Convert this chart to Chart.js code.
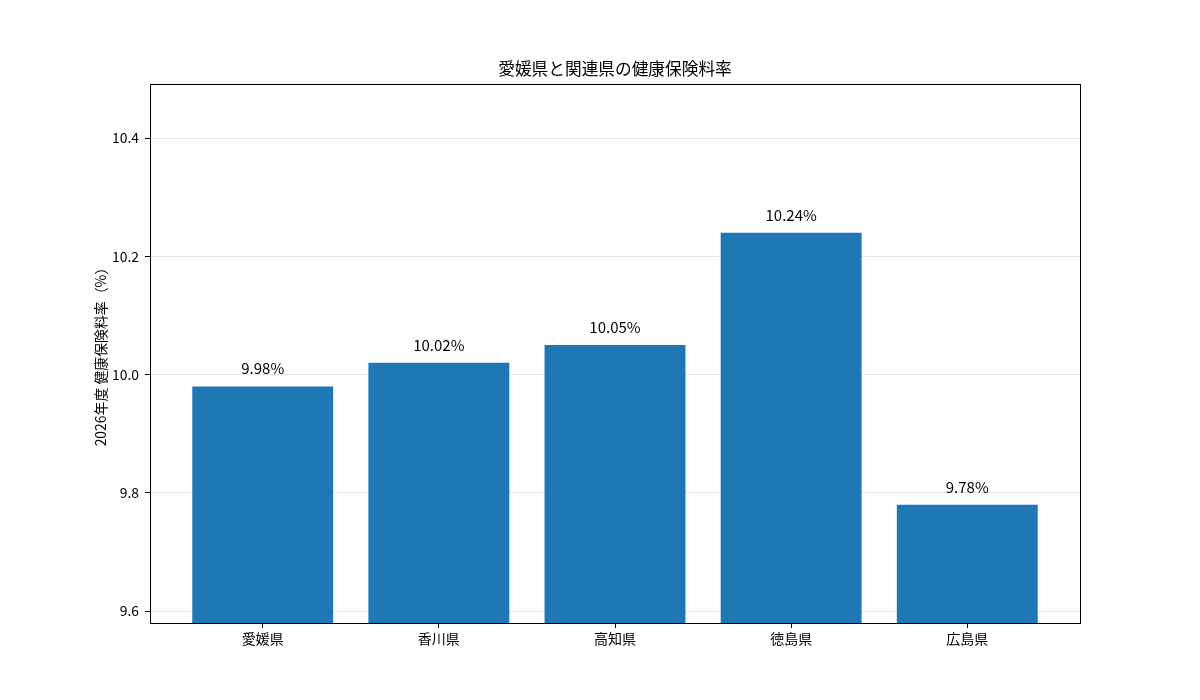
<!DOCTYPE html>
<html>
<head>
<meta charset="utf-8">
<script src="https://cdn.jsdelivr.net/npm/chart.js@4"></script>
<style>
html,body{margin:0;padding:0;background:#fff;}
#wrap{width:1200px;height:700px;}
</style>
</head>
<body>
<div id="wrap"><canvas id="c" width="1200" height="700"></canvas></div>
<script>
const categories = ["愛媛県", "香川県", "高知県", "徳島県", "広島県"];
const rates = [9.98, 10.02, 10.05, 10.24, 9.78];
const yTicks = [9.6, 9.8, 10.0, 10.2, 10.4];
const chartTitle = "愛媛県と関連県の健康保険料率";
const yTitle = "2026年度 健康保険料率（%）";

const FONT = "'Noto Sans CJK JP', 'Noto Sans', sans-serif";

const boxPlugin = {
  id: 'box',
  afterDraw(chart) {
    const a = chart.chartArea, ctx = chart.ctx;
    ctx.save();
    ctx.strokeStyle = '#000';
    ctx.lineWidth = 1;
    ctx.strokeRect(Math.round(a.left) + 0.5, Math.round(a.top) + 0.5,
      Math.round(a.right - a.left), Math.round(a.bottom - a.top));
    ctx.restore();
  }
};

const labelPlugin = {
  id: 'valueLabels',
  afterDatasetsDraw(chart) {
    const ctx = chart.ctx;
    const meta = chart.getDatasetMeta(0);
    ctx.save();
    ctx.font = "15px " + FONT;
    ctx.fillStyle = '#000';
    ctx.textAlign = 'center';
    ctx.textBaseline = 'alphabetic';
    meta.data.forEach((bar, i) => {
      ctx.fillText(rates[i].toFixed(2) + '%', bar.x, bar.y - 12);
    });
    ctx.restore();
  }
};

new Chart(document.getElementById('c'), {
  type: 'bar',
  data: {
    datasets: [{
      data: rates.map((v, i) => ({x: i, y: v})),
      backgroundColor: '#1f77b4',
      borderWidth: 0,
      categoryPercentage: 1.0,
      barPercentage: 0.8
    }]
  },
  options: {
    responsive: false,
    animation: false,
    layout: {padding: {left: 0, right: 120, top: 0, bottom: 0}},
    plugins: {
      legend: {display: false},
      tooltip: {enabled: false},
      title: {
        display: true,
        fullSize: false,
        text: chartTitle,
        color: '#000',
        font: {family: FONT, size: 16.7, weight: 'normal'},
        padding: {top: 59, bottom: 5}
      }
    },
    scales: {
      x: {
        type: 'linear',
        offset: false,
        min: -0.64,
        max: 4.64,
        afterBuildTicks(scale) { scale.ticks = categories.map((c, i) => ({value: i})); },
        afterFit(scale) { scale.height = 77; },
        ticks: {
          callback: (v) => categories[v],
          color: '#000',
          font: {family: FONT, size: 14},
          padding: 2,
          maxRotation: 0,
          autoSkip: false
        },
        grid: {offset: false, drawOnChartArea: false, tickLength: 5, tickColor: '#000', color: '#000'},
        border: {display: false}
      },
      y: {
        min: 9.58,
        max: 10.4914,
        z: 1,
        afterBuildTicks(scale) { scale.ticks = yTicks.map(v => ({value: v})); },
        afterFit(scale) { scale.width = 150; },
        ticks: {
          callback: (v) => Number(v).toFixed(1),
          color: '#000',
          font: {family: FONT, size: 13.9},
          padding: 6
        },
        grid: {color: 'rgba(176,176,176,0.3)', tickLength: 5, tickColor: '#000', lineWidth: 1},
        border: {display: false},
        title: {
          display: true,
          text: yTitle,
          color: '#000',
          font: {family: FONT, size: 13.9, weight: 'normal'},
          padding: {top: 92, bottom: 0}
        }
      }
    }
  },
  plugins: [boxPlugin, labelPlugin]
});
</script>
</body>
</html>
